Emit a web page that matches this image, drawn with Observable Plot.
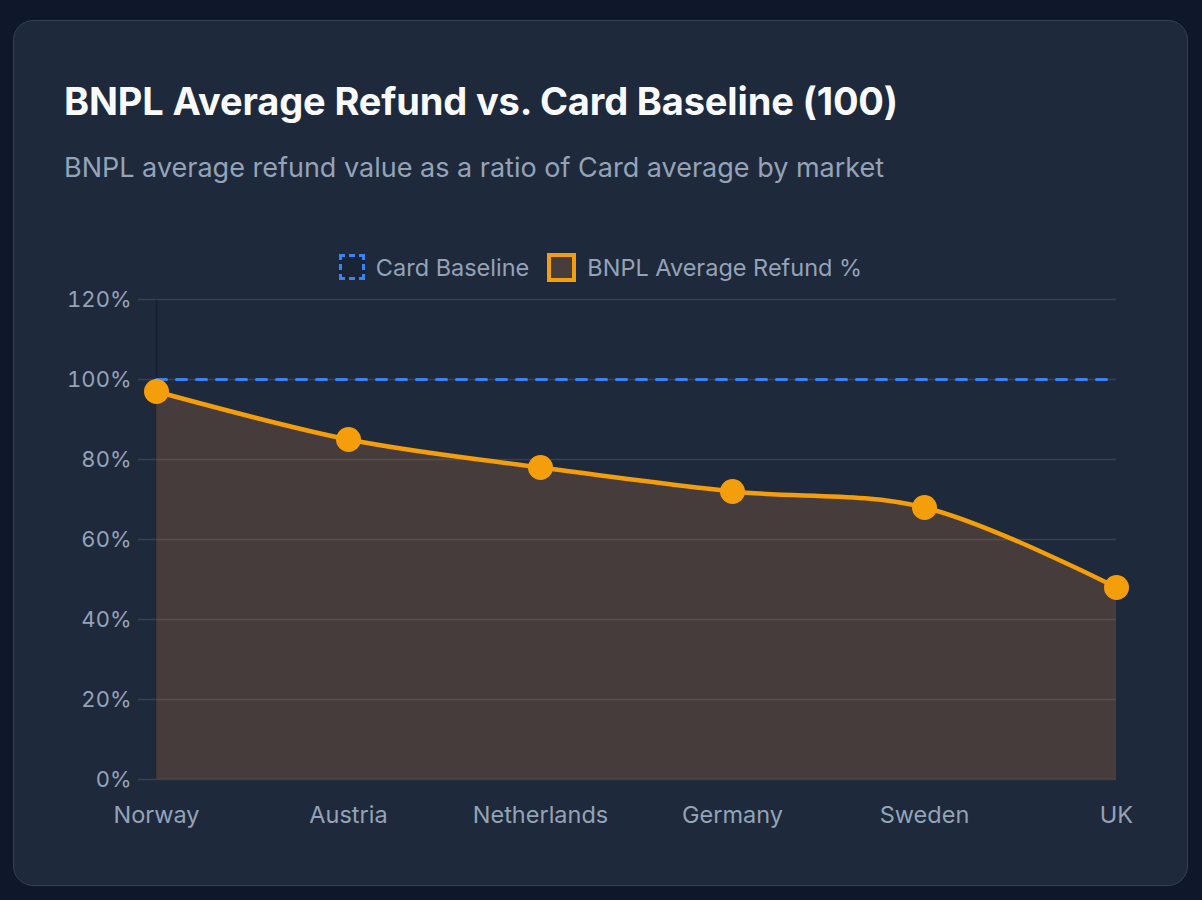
<!DOCTYPE html>
<html>
<head>
<meta charset="utf-8">
<script src="https://cdn.jsdelivr.net/npm/d3@7"></script>
<script src="https://cdn.jsdelivr.net/npm/@observablehq/plot@0.6"></script>
<style>
  html, body { margin: 0; padding: 0; }
  body { width: 1202px; height: 900px; background: #0f172a; position: relative; overflow: hidden; font-family: Inter, "Noto Sans", sans-serif; }
  .card { position: absolute; left: 13px; top: 20px; width: 1175px; height: 866px; box-sizing: border-box; border: 1.5px solid #334155; border-radius: 20px; background: #1e293b; }
  .title { position: absolute; left: 64px; top: 82px; font-size: 38px; line-height: 38px; font-weight: 700; color: #f8fafc; white-space: nowrap; letter-spacing: -0.15px; }
  .subtitle { position: absolute; left: 64px; top: 154px; font-size: 27px; line-height: 27px; color: #94a3b8; white-space: nowrap; }
  .legend { position: absolute; left: 13px; width: 1175px; top: 253px; height: 28px; display: flex; justify-content: center; align-items: center; font-size: 23.5px; color: #94a3b8; }
  .item { display: flex; align-items: center; }
  .item + .item { margin-left: 18px; }
  .sw { width: 26px; height: 26px; box-sizing: border-box; margin-right: 11px; }
  .sw.base { border: 3px dashed #3b82f6; background: rgba(15,23,42,0.25); }
  .sw.bnpl { border: 4px solid #f59e0b; background: #473d3b; width: 29px; height: 29px; }
  #chart { position: absolute; left: 0; top: 280px; }
</style>
</head>
<body>
<div class="card"></div>
<div class="title">BNPL Average Refund vs. Card Baseline (100)</div>
<div class="subtitle">BNPL average refund value as a ratio of Card average by market</div>
<div class="legend" id="legend"></div>
<div id="chart"></div>
<script>
const markets = ["Norway", "Austria", "Netherlands", "Germany", "Sweden", "UK"];
const bnplRefund = [97, 85, 78, 72, 68, 48];
const cardBaseline = [100, 100, 100, 100, 100, 100];
const yTicks = [0, 20, 40, 60, 80, 100, 120];
const seriesNames = ["Card Baseline", "BNPL Average Refund %"];

const data = markets.map((m, i) => ({market: m, bnpl: bnplRefund[i], card: cardBaseline[i]}));

// legend
const legend = document.getElementById("legend");
seriesNames.forEach((name, i) => {
  const it = document.createElement("div");
  it.className = "item";
  const sw = document.createElement("div");
  sw.className = "sw " + (i === 0 ? "base" : "bnpl");
  const t = document.createElement("span");
  t.textContent = name;
  it.appendChild(sw); it.appendChild(t);
  legend.appendChild(it);
});

const grid = "rgba(148,163,184,0.2)";
const chart = Plot.plot({
  width: 1202,
  height: 549,
  marginLeft: 155,
  marginRight: 86,
  marginTop: 19,
  marginBottom: 50,
  style: {background: "transparent", fontFamily: "Inter, 'Noto Sans', sans-serif", overflow: "visible"},
  x: {type: "point", domain: markets, padding: 0},
  y: {domain: [0, 120]},
  marks: [
    Plot.gridY(yTicks, {stroke: grid, strokeOpacity: 1, strokeWidth: 1.5}),
    Plot.axisY(yTicks, {tickSize: 17, tickPadding: 7, stroke: grid, strokeOpacity: 1, strokeWidth: 1.5, fill: "#94a3b8", fontSize: 22, tickFormat: d => d + "%", label: null}),
    Plot.axisX({tickSize: 0, tickPadding: 27, fill: "#94a3b8", fontSize: 23.5, label: null}),
    Plot.ruleX([markets[0]], {stroke: "rgba(0,0,0,0.22)", strokeWidth: 1.5}),
    Plot.areaY(data, {x: "market", y: "bnpl", fill: "rgb(190,121,59)", fillOpacity: 0.25, curve: "catmull-rom"}),
    Plot.lineY(data, {x: "market", y: "card", stroke: "#3b82f6", strokeWidth: 3, strokeDasharray: "10,10"}),
    Plot.lineY(data, {x: "market", y: "bnpl", stroke: "#f59e0b", strokeWidth: 4.5, curve: "catmull-rom"}),
    Plot.dot(data, {x: "market", y: "bnpl", r: 12.5, fill: "#f59e0b", stroke: "none"})
  ]
});
document.getElementById("chart").appendChild(chart);
</script>
</body>
</html>
